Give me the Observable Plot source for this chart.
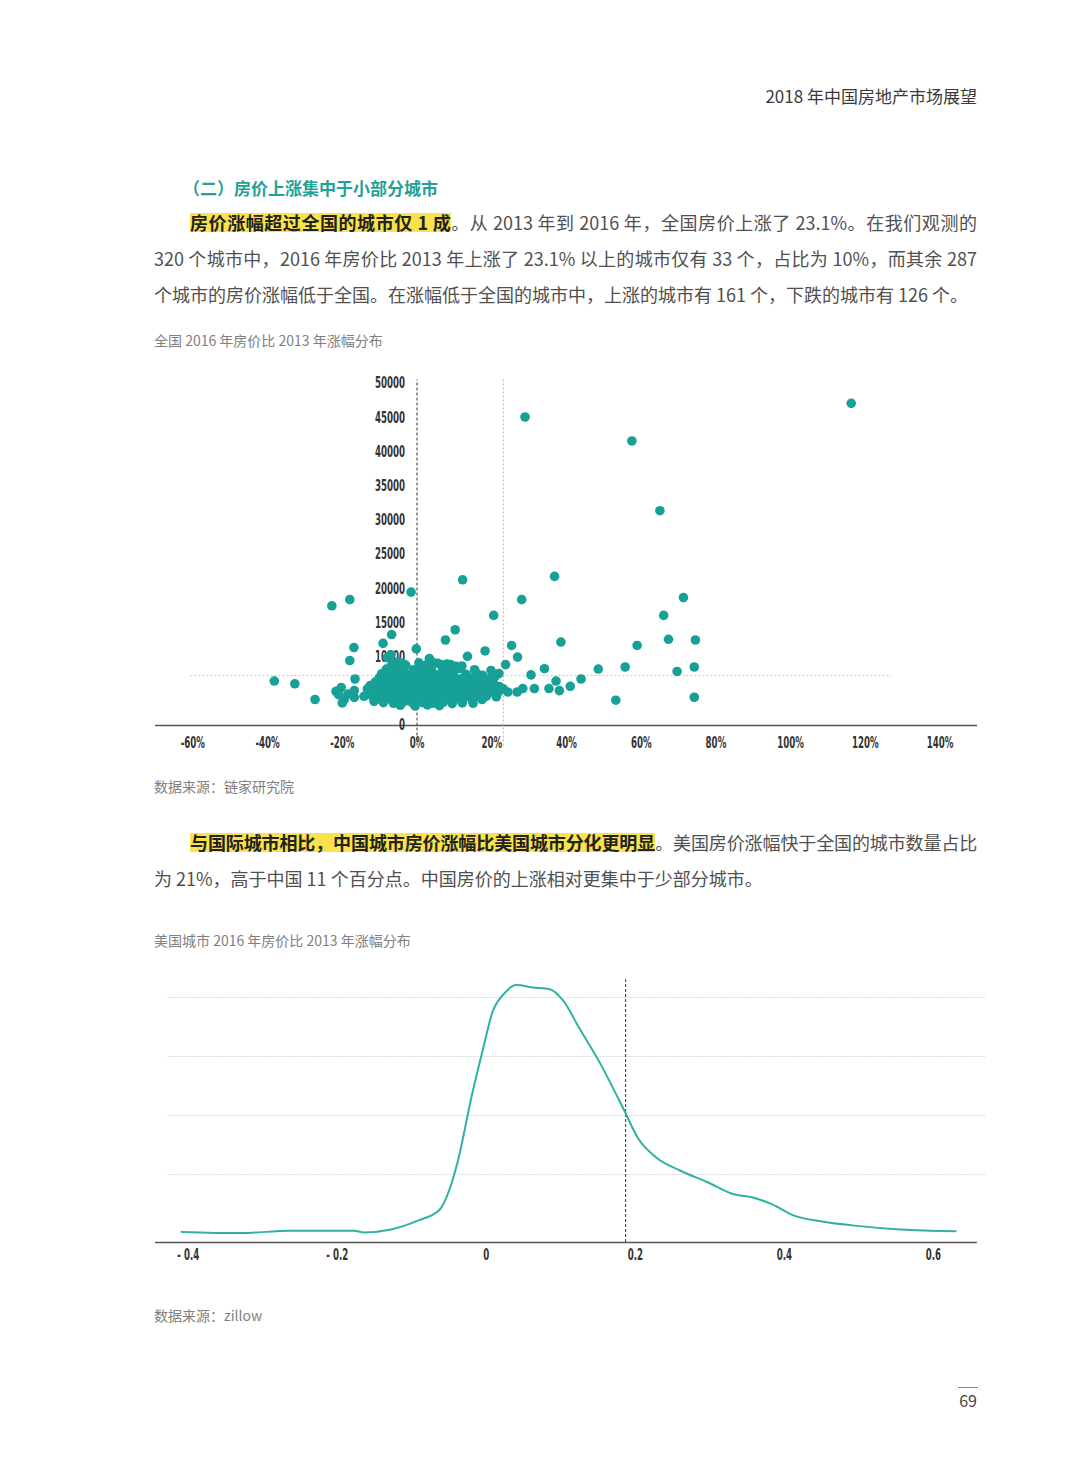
<!DOCTYPE html>
<html>
<head>
<meta charset="utf-8">
<script src="https://cdn.jsdelivr.net/npm/d3@7"></script>
<script src="https://cdn.jsdelivr.net/npm/@observablehq/plot@0.6"></script>
<style>
  html, body { margin: 0; padding: 0; background: #fff; }
  #page { position: relative; width: 1080px; height: 1466px; overflow: hidden; background: #fff;
          font-family: "Noto Sans CJK SC", "Noto Sans", sans-serif; color: #505050; }
  .abs { position: absolute; white-space: nowrap; }
  .header { right: 103px; top: 85px; font-size: 17px; line-height: 22px; color: #3a3a3a; }
  .sec { left: 183px; top: 177px; font-size: 17px; line-height: 22px; font-weight: bold; color: #22a196; }
  .line { left: 154px; width: 823px; font-size: 18px; line-height: 36px; text-align: justify; text-align-last: justify; }
  .line.last { text-align-last: left; }
  .hl { font-weight: bold; color: #222;
        background: linear-gradient(transparent 14%, #fae24c 14%, #fae24c 90%, transparent 90%); }
  .cap { left: 154px; font-size: 14px; line-height: 20px; color: #808080; }
  .chart { position: absolute; left: 0; }
  .pnum { right: 103px; top: 1389px; font-size: 16px; line-height: 22px; color: #444; }
  .pline { position: absolute; left: 958px; top: 1387px; width: 20px; height: 1px; background: #8a8a8a; }
</style>
</head>
<body>
<div id="page">
  <div class="abs header">2018 年中国房地产市场展望</div>
  <div class="abs sec">（二）房价上涨集中于小部分城市</div>

  <div class="abs line" style="top:204px; text-indent:36px;"><span class="hl">房价涨幅超过全国的城市仅 1 成</span>。从 2013 年到 2016 年，全国房价上涨了 23.1%。在我们观测的</div>
  <div class="abs line" style="top:240px;">320 个城市中，2016 年房价比 2013 年上涨了 23.1% 以上的城市仅有 33 个，占比为 10%，而其余 287</div>
  <div class="abs line last" style="top:276px;">个城市的房价涨幅低于全国。在涨幅低于全国的城市中，上涨的城市有 161 个，下跌的城市有 126 个。</div>

  <div class="abs cap" style="top:330px;">全国 2016 年房价比 2013 年涨幅分布</div>
  <div id="scatter" class="chart" style="top:370px;"></div>
  <div class="abs cap" style="top:776px;">数据来源：链家研究院</div>

  <div class="abs line" style="top:824px; text-indent:36px; letter-spacing:-0.3px;"><span class="hl">与国际城市相比，中国城市房价涨幅比美国城市分化更明显</span>。美国房价涨幅快于全国的城市数量占比</div>
  <div class="abs line last" style="top:860px;">为 21%，高于中国 11 个百分点。中国房价的上涨相对更集中于少部分城市。</div>

  <div class="abs cap" style="top:930px;">美国城市 2016 年房价比 2013 年涨幅分布</div>
  <div id="density" class="chart" style="top:970px;"></div>
  <div class="abs cap" style="top:1305px;">数据来源：zillow</div>

  <div class="pline"></div>
  <div class="abs pnum">69</div>
</div>
<script>
// ---------- Chart 1: China cities, growth 2013->2016 (%) vs price ----------
const xTicks = [-60, -40, -20, 0, 20, 40, 60, 80, 100, 120, 140];
const yTicks = [0, 5000, 10000, 15000, 20000, 25000, 30000, 35000, 40000, 45000, 50000];
const nationalGrowth = 23.1;
const nationalPrice = 7300;

const upperPoints = [[28.9,45100],[116.2,47100],[57.5,41600],[65,31400],[12.2,21300],[36.8,21800],[-1.6,19500],[-18,18400],[-22.8,17500],[28,18400],[71.3,18700],[20.5,16100],[66,16100],[10.2,14000],[-6.8,13300],[-9.1,12000],[7.6,12500],[-16.9,11400],[-0.2,11200],[38.5,12200],[25.3,11700],[18.2,10900],[26.9,10000],[13.5,10100],[-18,9500],[-7,10350],[67.3,12600],[74.5,12500],[58.9,11700]];

const rightPoints = [[23.7,8900],[34.1,8300],[30.5,7400],[37.2,6500],[35.3,5400],[38.1,5100],[31.4,5400],[28.3,5400],[26.8,4900],[24.3,4900],[55.7,8550],[74.2,8550],[69.6,7900],[48.5,8250],[43.9,6800],[41,5730],[53.2,3700],[74.2,4130],[20.9,7190],[15.8,7680],[16.2,6220],[21.6,4770],[22.5,5250],[12.2,6900],[10,8550],[12,8700],[3.3,9770],[6.4,8900],[10.4,8650]];

const leftPoints = [[-16.6,6800],[-38.2,6500],[-32.7,6100],[-27.3,3800],[-21.7,5000],[-20.3,5540],[-19.5,3800],[-20,3300],[-16.8,4100],[-16.8,5100],[-14.2,4270],[-11.5,4800],[-11.5,3540],[-21,4500],[-18.5,4600],[-13,5400],[-8,9900],[-5,9300],[-7,8600],[-3,8800],[1,8500],[4,9300],[8,9000]];

const clusterPoints = [
[-6.5,9050],[-3.5,8950],[0.5,9150],[2.5,8850],[5.5,9100],[9.0,8900],
[-8.2,8250],[-5.8,8100],[-4.1,8350],[-1.0,8150],[1.6,8300],[3.9,8050],[6.8,8250],[8.7,8100],[11.3,8300],[15.4,8150],[19.8,8050],
[-9.5,7550],[-7.3,7400],[-5.2,7650],[-2.8,7450],[-0.6,7600],[1.2,7350],[3.1,7550],[5.0,7400],[7.4,7650],[9.6,7450],[13.1,7500],[17.5,7350],[21.9,7600],
[-10.1,6950],[-8.0,6800],[-6.1,7000],[-4.4,6850],[-2.2,6950],[-0.1,6800],[1.9,7050],[3.7,6850],[5.6,6950],[7.9,6800],[10.2,7000],[14.3,6850],[16.8,6950],[19.1,6800],
[-11.2,6350],[-9.0,6200],[-7.1,6400],[-5.3,6250],[-3.6,6350],[-1.5,6200],[0.4,6400],[2.3,6250],[4.2,6350],[6.3,6200],[8.5,6400],[10.6,6250],[12.9,6300],[15.2,6200],[18.0,6350],[20.4,6250],
[-12.5,5850],[-10.4,5700],[-8.4,5900],[-6.6,5750],[-4.7,5850],[-2.9,5700],[-1.1,5900],[0.8,5750],[2.7,5850],[4.6,5700],[6.5,5900],[8.4,5750],[10.1,5850],[11.8,5700],[13.8,5850],[16.5,5750],[19.3,5800],[22.0,5700],
[-13.3,5350],[-11.0,5200],[-9.2,5400],[-7.6,5250],[-5.8,5350],[-4.0,5200],[-2.3,5400],[-0.5,5250],[1.3,5350],[3.0,5200],[4.9,5400],[6.9,5250],[8.8,5350],[10.7,5200],[12.4,5350],[14.6,5250],[17.2,5300],[19.9,5200],[23.1,5350],
[-10.5,4850],[-8.8,4700],[-6.9,4900],[-5.1,4750],[-3.3,4850],[-1.7,4700],[0.1,4900],[1.9,4750],[3.6,4850],[5.4,4700],[7.2,4900],[9.2,4750],[11.1,4850],[13.2,4700],[15.3,4850],[17.8,4750],[20.6,4800],
[-12.0,4350],[-9.7,4200],[-7.8,4400],[-6.0,4250],[-4.3,4350],[-2.6,4200],[-0.9,4400],[0.7,4250],[2.4,4350],[4.1,4200],[5.9,4400],[7.7,4250],[9.6,4350],[11.7,4200],[13.9,4350],[16.1,4250],[18.6,4300],[21.2,4200],
[-10.8,3850],[-8.6,3700],[-6.6,3900],[-4.9,3750],[-3.1,3850],[-1.4,3700],[0.3,3900],[2.0,3750],[3.8,3850],[5.7,3700],[7.6,3900],[9.9,3750],[12.3,3850],[14.8,3700],[17.4,3800],
[-9.0,3350],[-6.3,3250],[-3.8,3400],[-1.0,3200],[1.5,3350],[4.2,3250],[7.0,3400],[9.4,3200],[12.1,3300],[15.0,3250],
[-4.5,2950],[-0.5,2850],[2.8,3000],[6.0,2900],
[-5.9,6600],[-3.0,6650],[-0.8,6550],[1.1,6700],[3.4,6600],[6.0,6650],
[-7.9,6050],[-5.5,6100],[-2.5,6000],[1.6,6050],[3.5,6100],[5.2,6000],[9.0,6050],
[-9.9,5550],[-7.0,5600],[-3.5,5500],[-1.8,5600],[0.2,5550],[2.1,5500],[3.9,5600],[5.7,5550],[7.6,5500],[9.5,5600],[11.5,5550],
[-8.0,5050],[-6.2,5100],[-4.5,5000],[-2.8,5050],[-1.0,5100],[0.6,5000],[2.4,5050],[4.3,5100],[6.1,5000],[8.0,5050],[10.0,5100],[12.0,5000],
[-9.3,4550],[-7.2,4600],[-5.5,4500],[-3.7,4550],[-2.0,4600],[-0.2,4500],[1.5,4550],[3.2,4600],[5.0,4500],[6.8,4550],[8.5,4600],[10.4,4500],
[-7.0,4050],[-5.0,4100],[-3.0,4000],[-1.2,4050],[0.9,4100],[2.9,4000],[4.8,4050],[6.6,4100],[8.8,4000],
[-5.5,3550],[-2.2,3600],[0.9,3500],[3.2,3550],[6.3,3600]
];

// ---------- Chart 2: US cities density of growth ----------
const usGrowth  = [-0.409,-0.329,-0.264,-0.178,-0.164,-0.128,-0.092,-0.063,-0.050,-0.038,-0.020,-0.005,0.009,0.0235,0.040,0.063,0.085,0.103,0.124,0.153,0.185,0.203,0.228,0.260,0.297,0.329,0.361,0.383,0.412,0.448,0.491,0.556,0.630];
const usDensity = [0.03,0.01,0.05,0.05,0.02,0.07,0.22,0.40,0.73,1.24,2.31,3.10,3.78,4.06,4.21,4.17,4.14,3.95,3.50,2.88,2.09,1.63,1.29,1.07,0.87,0.68,0.60,0.50,0.31,0.21,0.14,0.07,0.04];
const usXTicks = [-0.4, -0.2, 0, 0.2, 0.4, 0.6];
const usGrid = [1, 2, 3, 4];
const usNational = 0.187;

const tickFont = {fontFamily: "'Liberation Sans Narrow', 'DejaVu Sans Condensed', 'Liberation Sans', sans-serif", fontSize: "15px", fontWeight: "bold", color: "#333", background: "transparent", overflow: "visible"};

const allPoints = [...leftPoints, ...clusterPoints, ...rightPoints, ...upperPoints];

const scatter = Plot.plot({
  width: 1080, height: 390,
  marginLeft: 155, marginRight: 103, marginTop: 13, marginBottom: 35,
  x: {domain: [-70, 150], ticks: xTicks, tickSize: 0, tickPadding: 12, tickFormat: d => d + "%", label: null},
  y: {domain: [0, 50000], axis: null},
  style: tickFont,
  marks: [
    Plot.ruleY([0], {stroke: "#555", strokeWidth: 1.5}),
    Plot.text(yTicks, {x: 0, y: d => d, dx: -12, text: d => String(d), textAnchor: "end", fill: "#333", fontWeight: "bold"}),
    Plot.ruleY([nationalPrice], {x1: -60.5, x2: 127, stroke: "#e9bf7e", strokeDasharray: "2,2", strokeWidth: 1}),
    Plot.ruleX([nationalGrowth], {y1: -3000, y2: 50500, stroke: "#e9bf7e", strokeDasharray: "2,2", strokeWidth: 1.2}),
    Plot.ruleX([0], {y1: -3000, y2: 50500, stroke: "#333", strokeDasharray: "3,2", strokeWidth: 1}),
    Plot.dot(allPoints, {x: d => d[0], y: d => d[1], r: 4.8, fill: "#17a096", stroke: "none"})
  ]
});
document.getElementById("scatter").appendChild(scatter);

const usData = usGrowth.map((g, i) => ({g, d: usDensity[i]}));
const density = Plot.plot({
  width: 1080, height: 300,
  marginLeft: 155, marginRight: 95, marginTop: 6.35, marginBottom: 28,
  x: {domain: [-0.444, 0.67], ticks: usXTicks, tickSize: 0, tickPadding: 7, label: null,
      tickFormat: d => d < 0 ? "- " + Math.abs(d) : String(d)},
  y: {domain: [-0.15, 4.35], axis: null},
  style: tickFont,
  marks: [
    Plot.ruleY(usGrid, {x1: -0.427, x2: 0.67, stroke: "#dcdcdc", strokeDasharray: "2,1", strokeWidth: 1}),
    Plot.ruleY([-0.15], {x1: -0.444, x2: 0.659, stroke: "#555", strokeWidth: 1.5}),
    Plot.ruleX([usNational], {y1: -0.15, y2: 4.3, stroke: "#333", strokeDasharray: "3,2", strokeWidth: 1}),
    Plot.line(usData, {x: "g", y: "d", stroke: "#2fb2a4", strokeWidth: 2, curve: "monotone-x"})
  ]
});
document.getElementById("density").appendChild(density);

// condense tick label glyphs horizontally (condensed display face look)
for (const svg of [scatter, density]) {
  svg.querySelectorAll("text").forEach(t => {
    const L = t.getComputedTextLength();
    if (L > 0) {
      t.setAttribute("textLength", (L * 0.64).toFixed(1));
      t.setAttribute("lengthAdjust", "spacingAndGlyphs");
    }
  });
}
</script>
</body>
</html>
